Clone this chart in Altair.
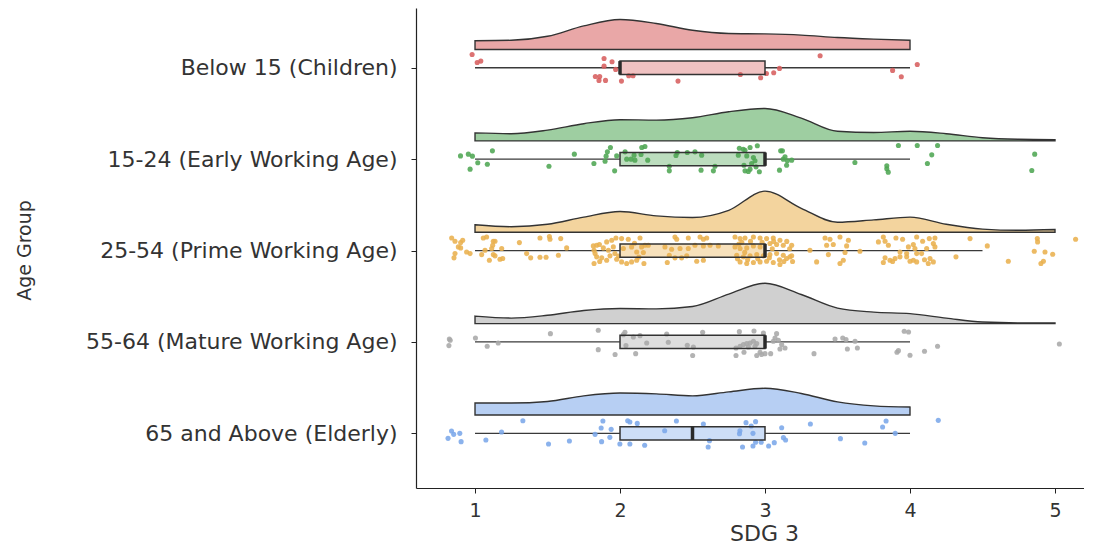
import altair as alt
import pandas as pd

# ---------------- data ----------------
groups = ["Below 15 (Children)", "15-24 (Early Working Age)", "25-54 (Prime Working Age)",
          "55-64 (Mature Working Age)", "65 and Above (Elderly)"]
group_pos = [5, 4, 3, 2, 1]
point_colors = ["#d75f5f", "#4ea653", "#e9b04e", "#a9a9a9", "#7ba7e9"]

grid_to4 = [1.0, 1.25, 1.5, 1.75, 2.0, 2.25, 2.5, 2.75, 3.0, 3.25, 3.5, 3.75, 4.0]
grid_to5 = [1.0, 1.25, 1.5, 1.75, 2.0, 2.25, 2.5, 2.75, 3.0, 3.25, 3.5, 3.75, 4.0, 4.25, 4.5, 4.75, 5.0]
dens_below15 = [0.22, 0.23, 0.33, 0.59, 0.75, 0.65, 0.48, 0.40, 0.39, 0.36, 0.30, 0.26, 0.23]
dens_15_24 = [0.20, 0.18, 0.27, 0.43, 0.53, 0.52, 0.58, 0.73, 0.81, 0.57, 0.24, 0.21, 0.24, 0.18, 0.08, 0.04, 0.03]
dens_25_54 = [0.19, 0.14, 0.20, 0.38, 0.52, 0.41, 0.37, 0.55, 1.03, 0.60, 0.25, 0.31, 0.38, 0.20, 0.08, 0.05, 0.07]
dens_55_64 = [0.19, 0.14, 0.21, 0.33, 0.38, 0.37, 0.43, 0.74, 1.01, 0.73, 0.39, 0.29, 0.25, 0.14, 0.04, 0.02, 0.02]
dens_65plus = [0.30, 0.30, 0.34, 0.48, 0.55, 0.53, 0.48, 0.58, 0.67, 0.54, 0.33, 0.23, 0.20]

# boxplot statistics
box_q1 = [2, 2, 2, 2, 2]
box_median = [2, 3, 3, 3, 2.5]
box_q3 = [3, 3, 3, 3, 3]
whisker_lo = [1, 1, 1, 1, 1]
whisker_hi = [4, 4, 4.5, 4, 4]

# jittered raw points: (score, vertical jitter)
pts_below15 = [(0.98, 0.146), (1.015, 0.058), (1.04, 0.073), (1.89, 0.102), (1.945, 0.066), (1.89, 0.018),
               (1.97, -0.018), (1.83, -0.095), (1.86, -0.095), (1.855, -0.138), (1.90, -0.138), (2.01, -0.146),
               (2.06, -0.087), (2.09, -0.087), (2.40, -0.146), (2.83, -0.073), (2.97, -0.109), (3.01, -0.062),
               (3.06, -0.055), (3.10, -0.007), (3.38, 0.131), (3.88, -0.029), (3.94, -0.098), (4.05, 0.036)]

pts_15_24 = [(0.90, 0.036), (0.954, 0.055), (0.982, 0.033), (1.12, 0.091), (1.019, -0.040), (1.085, -0.055),
             (0.966, -0.109), (1.51, -0.077), (1.685, 0.055), (1.82, -0.047), (1.897, -0.022), (1.904, 0.033),
             (1.913, 0.080), (1.934, 0.128), (1.963, -0.128), (1.977, 0.036), (2.035, 0.080), (2.046, 0.0),
             (2.076, 0.0), (2.103, -0.011), (2.097, 0.044), (2.145, 0.051), (2.15, 0.128), (2.172, 0.138),
             (2.191, -0.011), (2.34, -0.077), (2.34, -0.128), (2.386, 0.040), (2.395, 0.073), (2.464, 0.073),
             (2.517, 0.080), (2.563, 0.044), (2.559, -0.120), (2.644, -0.128), (2.655, -0.077), (2.816, 0.044),
             (2.823, 0.120), (2.85, 0.109), (2.897, 0.128), (2.947, 0.146), (2.862, 0.098), (2.874, 0.036),
             (2.92, 0.018), (2.931, -0.018), (2.908, -0.047), (2.855, -0.066), (2.938, -0.084), (2.862, -0.128),
             (2.885, -0.135), (2.961, -0.138), (2.897, -0.109), (3.10, -0.120), (3.108, 0.091), (3.126, 0.0),
             (3.138, 0.026), (3.154, -0.018), (3.184, -0.011), (3.149, -0.066), (3.12, 0.091), (3.62, -0.036),
             (3.84, -0.073), (3.84, -0.106), (3.85, -0.142), (3.92, 0.149), (4.05, 0.149), (4.15, 0.047),
             (4.12, -0.047), (4.19, 0.149), (4.86, 0.055), (4.84, -0.124)]

pts_25_54 = [(0.839, 0.138), (0.862, 0.102), (0.901, 0.087), (0.915, 0.113), (0.885, 0.040), (0.901, 0.029),
             (0.862, -0.033), (0.855, -0.080), (0.942, -0.015), (0.966, -0.033), (1.057, 0.138), (1.08, 0.149),
             (1.126, 0.102), (1.138, 0.102), (1.122, 0.058), (1.069, 0.004), (1.115, 0.022), (1.184, 0.022),
             (1.046, -0.044), (1.126, -0.044), (1.138, -0.058), (1.099, -0.106), (1.172, -0.095), (1.191, -0.087),
             (1.306, 0.087), (1.356, -0.033), (1.384, -0.080), (1.448, 0.138), (1.513, 0.153), (1.517, 0.124),
             (1.591, 0.131), (1.632, 0.029), (1.575, -0.051), (1.448, -0.073), (1.49, -0.073), (1.816, 0.051),
             (1.821, 0.004), (1.839, 0.058), (1.858, 0.066), (1.885, 0.029), (1.828, -0.033), (1.839, -0.069),
             (1.874, -0.080), (1.821, -0.142), (1.908, 0.095), (1.92, 0.004), (1.931, -0.058), (1.954, 0.040),
             (1.943, 0.113), (1.972, 0.138), (2.011, 0.131), (2.057, 0.124), (2.08, 0.040), (2.023, 0.022),
             (2.138, 0.138), (2.149, 0.040), (2.172, 0.058), (2.115, -0.015), (2.161, -0.022), (1.977, -0.095),
             (2.011, -0.124), (2.046, -0.142), (2.08, -0.124), (2.115, -0.106), (2.165, -0.142), (2.195, 0.058),
             (1.908, -0.106), (1.965, -0.033), (1.86, -0.12), (2.10, 0.08), (1.99, -0.06), (2.13, -0.07),
             (2.379, 0.149), (2.391, 0.124), (2.471, 0.138), (2.552, 0.149), (2.598, 0.138), (2.575, 0.124),
             (2.31, 0.040), (2.356, 0.015), (2.414, 0.022), (2.471, 0.022), (2.517, 0.058), (2.575, 0.051),
             (2.621, 0.058), (2.678, 0.051), (2.34, -0.051), (2.379, -0.080), (2.425, -0.080), (2.46, -0.058),
             (2.326, -0.131), (2.529, -0.117), (2.575, -0.106), (2.793, 0.149), (2.828, 0.131), (2.862, 0.138),
             (2.92, 0.149), (2.966, 0.138), (3.011, 0.131), (3.057, 0.138), (3.103, 0.113), (3.034, 0.077),
             (3.08, 0.066), (3.126, 0.058), (3.184, 0.058), (2.793, 0.040), (2.828, 0.022), (2.874, 0.029),
             (2.92, 0.051), (2.966, 0.040), (2.805, -0.051), (2.851, -0.069), (2.897, -0.058), (2.943, -0.044),
             (2.989, -0.058), (3.034, -0.044), (3.08, -0.033), (3.126, -0.051), (3.172, -0.069), (2.828, -0.124),
             (2.874, -0.142), (2.92, -0.131), (2.966, -0.124), (3.011, -0.117), (3.057, -0.131), (3.103, -0.153),
             (3.149, -0.087), (3.184, -0.058), (2.84, 0.09), (2.90, 0.10), (2.98, 0.09), (3.06, 0.10),
             (3.15, 0.10), (2.81, -0.09), (2.88, -0.10), (2.95, -0.09), (3.03, -0.08), (3.10, -0.10),
             (3.17, 0.02), (3.13, -0.12), (2.86, -0.02), (3.05, 0.02), (3.19, -0.12), (2.82, 0.07),
             (3.31, 0.004), (3.414, 0.138), (3.448, 0.124), (3.517, 0.149), (3.575, 0.113), (3.425, 0.058),
             (3.471, 0.066), (3.563, 0.051), (3.552, -0.022), (3.437, -0.044), (3.356, -0.124), (3.517, -0.142),
             (3.54, -0.106), (3.655, -0.007), (3.782, 0.095), (3.816, 0.149), (3.828, 0.102), (3.851, 0.058),
             (3.903, 0.138), (3.949, 0.124), (4.046, 0.149), (4.087, 0.102), (4.133, 0.131), (4.172, 0.138),
             (4.161, 0.077), (4.172, 0.040), (4.115, 0.022), (4.023, 0.066), (3.989, 0.040), (4.034, 0.022),
             (3.931, -0.015), (3.977, -0.033), (4.046, -0.033), (4.08, -0.033), (3.828, -0.080), (3.862, -0.106),
             (3.897, -0.087), (3.931, -0.069), (3.977, -0.069), (4.023, -0.106), (4.046, -0.124), (4.0, -0.117),
             (4.138, -0.087), (4.161, -0.124), (4.126, -0.142), (3.816, -0.131), (3.88, -0.12), (4.10, -0.10),
             (4.414, 0.131), (4.533, 0.051), (4.317, -0.069), (4.678, -0.117), (4.878, 0.131), (4.88, 0.095),
             (4.857, -0.007), (4.931, -0.015), (4.984, -0.040), (4.92, -0.117), (4.903, -0.142), (5.142, 0.124)]

pts_55_64 = [(0.823, 0.033), (0.829, 0.018), (0.82, -0.040), (1.003, 0.044), (1.084, -0.047), (1.16, -0.011),
             (1.52, 0.091), (1.85, 0.128), (1.85, -0.084), (2.034, 0.106), (2.023, 0.080), (2.092, 0.055),
             (2.138, 0.069), (2.041, -0.040), (1.966, -0.138), (2.108, -0.128), (2.184, -0.011), (2.333, -0.004),
             (2.322, 0.087), (2.57, 0.106), (2.464, -0.036), (2.506, -0.055), (2.501, -0.149), (2.823, 0.113),
             (2.924, 0.120), (2.989, 0.098), (3.08, 0.091), (3.069, 0.044), (3.057, 0.007), (3.092, 0.018),
             (3.115, -0.029), (3.138, -0.066), (3.103, -0.077), (2.80, -0.066), (2.828, -0.047), (2.851, -0.029),
             (2.874, -0.018), (2.897, -0.011), (2.92, 0.007), (2.943, -0.018), (2.885, -0.055), (2.931, -0.047),
             (2.80, -0.149), (2.855, -0.113), (2.943, -0.149), (2.977, -0.138), (3.0, -0.128), (3.039, -0.128),
             (2.966, -0.113), (3.483, 0.033), (3.536, 0.044), (3.559, 0.026), (3.621, 0.007), (3.568, -0.077),
             (3.637, -0.066), (3.338, -0.128), (3.92, -0.095), (3.91, -0.113), (3.96, 0.117), (3.99, 0.109),
             (4.0, -0.146), (4.10, -0.102), (4.19, -0.047), (5.03, -0.022)]

pts_65plus = [(0.838, 0.026), (0.853, -0.011), (0.895, 0.0), (0.814, -0.055), (0.904, -0.091), (1.075, -0.073),
              (1.183, 0.015), (1.33, 0.138), (1.507, -0.117), (1.651, -0.084), (1.828, -0.011), (1.87, 0.058),
              (1.873, -0.091), (1.882, 0.135), (1.93, -0.044), (1.939, 0.044), (1.999, -0.117), (2.053, 0.138),
              (2.068, 0.124), (2.068, -0.117), (2.119, 0.109), (2.17, -0.131), (2.308, 0.029), (2.389, 0.135),
              (2.575, 0.102), (2.617, -0.080), (2.608, -0.149), (2.827, 0.029), (2.824, -0.004), (2.845, -0.149),
              (2.869, 0.117), (2.905, 0.080), (2.917, 0.0), (2.935, 0.128), (2.917, -0.138), (2.935, -0.098),
              (2.974, -0.098), (3.025, -0.138), (3.064, -0.102), (3.115, 0.062), (3.127, -0.047), (3.142, -0.073),
              (3.313, 0.102), (3.52, -0.058), (3.688, -0.106), (3.811, 0.069), (3.835, 0.135), (3.898, 0.0),
              (4.195, 0.142)]

# ---------------- layout constants ----------------
BASE_OFF = 0.2      # density baseline above group centre
DENS_SCALE = 0.4376 # y-units per density unit
BOX_HALF = 0.073    # half height of box

all_points = [pts_below15, pts_15_24, pts_25_54, pts_55_64, pts_65plus]
all_grids = [grid_to4, grid_to5, grid_to5, grid_to5, grid_to4]
all_dens = [dens_below15, dens_15_24, dens_25_54, dens_55_64, dens_65plus]

point_rows = []
for g, pos, pts in zip(groups, group_pos, all_points):
    for sx, dy in pts:
        point_rows.append({"group": g, "score": sx, "yy": pos + dy})
points_df = pd.DataFrame(point_rows)

dens_rows = []
for g, pos, xs, ds in zip(groups, group_pos, all_grids, all_dens):
    for sx, d in zip(xs, ds):
        dens_rows.append({"group": g, "score": sx, "base": pos + BASE_OFF,
                          "top": pos + BASE_OFF + d * DENS_SCALE})
dens_df = pd.DataFrame(dens_rows)

box_df = pd.DataFrame({
    "group": groups, "pos": group_pos, "q1": box_q1, "med": box_median, "q3": box_q3,
    "lo": whisker_lo, "hi": whisker_hi,
})
box_df["ylo"] = box_df["pos"] - BOX_HALF
box_df["yhi"] = box_df["pos"] + BOX_HALF

# ---------------- scales & axes ----------------
FONT = "DejaVu Sans"
xscale = alt.Scale(domain=[0.593, 5.2], nice=False, zero=False)
yscale = alt.Scale(domain=[0.402, 5.654], nice=False, zero=False)
cscale = alt.Scale(domain=groups, range=point_colors)

labels_by_pos = [""] + [groups[group_pos.index(v)] for v in [1, 2, 3, 4, 5]]
label_expr = "[" + ",".join("'" + s + "'" for s in labels_by_pos) + "][datum.value]"

xaxis = alt.Axis(values=[1, 2, 3, 4, 5], format="d", title="SDG 3", grid=False,
                 tickSize=5, tickColor="#222222", domainColor="#222222", domainWidth=1.2,
                 labelPadding=8, labelFontSize=19, labelFont=FONT, labelColor="#333333",
                 titleFont=FONT, titleFontSize=22, titleFontWeight="normal", titleColor="#333333",
                 titleX=348, titleY=35)
yaxis = alt.Axis(values=[1, 2, 3, 4, 5], labelExpr=label_expr, title="Age Group", grid=False,
                 tickSize=5, tickColor="#222222", domainColor="#222222", domainWidth=1.2,
                 labelPadding=14, labelFontSize=22, labelFont=FONT, labelColor="#333333",
                 labelOverlap=False, labelBound=False, labelLimit=0,
                 titleFont=FONT, titleFontSize=19, titleFontWeight="normal", titleColor="#333333",
                 titleX=-382, titleY=242)

color = alt.Color("group:N", scale=cscale, legend=None)

density = alt.Chart(dens_df).mark_area(
    interpolate="monotone", fillOpacity=0.55, stroke="#333333", strokeWidth=1.4
).encode(
    x=alt.X("score:Q", scale=xscale, axis=xaxis),
    y=alt.Y("top:Q", scale=yscale, axis=yaxis, stack=None),
    y2="base:Q",
    color=color,
    detail="group:N",
)

whisk_left = alt.Chart(box_df).mark_rule(color="#3a3a3a", strokeWidth=1.3).encode(
    x="lo:Q", x2="q1:Q", y="pos:Q")
whisk_right = alt.Chart(box_df).mark_rule(color="#3a3a3a", strokeWidth=1.3).encode(
    x="q3:Q", x2="hi:Q", y="pos:Q")

points = alt.Chart(points_df).mark_circle(size=26, opacity=0.88).encode(
    x="score:Q", y="yy:Q", color=color)

box = alt.Chart(box_df).mark_rect(fillOpacity=0.38, stroke="#333333", strokeWidth=1.5).encode(
    x="q1:Q", x2="q3:Q", y="ylo:Q", y2="yhi:Q", color=color)

median = alt.Chart(box_df).mark_rule(color="#2a2a2a", strokeWidth=3.5).encode(
    x="med:Q", y="ylo:Q", y2="yhi:Q")

chart = alt.layer(density, whisk_left, whisk_right, points, box, median).properties(
    width=668, height=480,
    padding={"left": 408, "top": 0, "right": 0, "bottom": 56},
    autosize=alt.AutoSizeParams(type="none"),
).configure_view(stroke=None)

chart.save("out.html", embed_options={"renderer": "svg", "actions": False})
